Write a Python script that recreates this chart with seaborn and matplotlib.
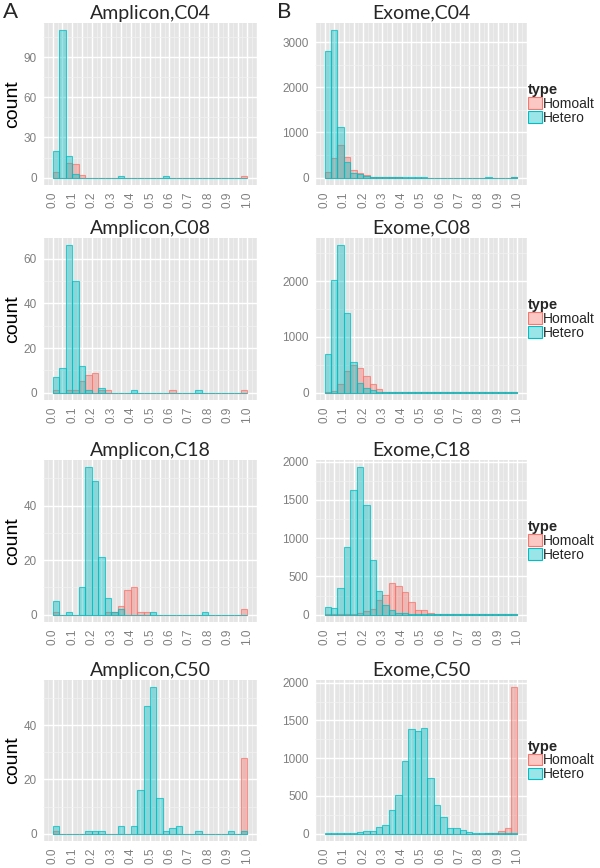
import numpy as np
import pandas as pd
import matplotlib
matplotlib.use("Agg")
import matplotlib.pyplot as plt
from matplotlib.patches import Patch
from matplotlib.ticker import MultipleLocator, FuncFormatter
import seaborn as sns

# 30 bins of allele fraction between 0 and 1 (ggplot default binning)
n_bins = 30
bin_edges = np.linspace(0, 1, n_bins + 1)
bin_mid = (bin_edges[:-1] + bin_edges[1:]) / 2

types = ["Homoalt", "Hetero"]
panel_titles = ["Amplicon,C04", "Exome,C04", "Amplicon,C08", "Exome,C08",
                "Amplicon,C18", "Exome,C18", "Amplicon,C50", "Exome,C50"]

# counts per bin
amp_c04_homo = [4, 0, 11, 10, 2, 0, 0, 0, 0, 0, 0, 0, 0, 0, 0, 0, 0, 0, 0, 0, 0, 0, 0, 0, 0, 0, 0, 0, 0, 1]
amp_c04_het = [20, 110, 16, 3, 0, 0, 0, 0, 0, 0, 1, 0, 0, 0, 0, 0, 0, 1, 0, 0, 0, 0, 0, 0, 0, 0, 0, 0, 0, 0]
exo_c04_homo = [118, 434, 720, 463, 169, 96, 51, 20, 10, 6, 5, 4, 3, 3, 3, 3, 3, 3, 3, 3, 3, 3, 3, 3, 3, 3, 3, 3, 3, 10]
exo_c04_het = [2800, 3260, 1125, 346, 103, 80, 37, 20, 10, 8, 6, 5, 5, 4, 4, 4, 3, 3, 3, 3, 3, 3, 3, 3, 3, 5, 3, 3, 3, 5]

amp_c08_homo = [1, 0, 1, 1, 5, 8, 9, 1, 1, 0, 0, 0, 0, 0, 0, 0, 0, 0, 1, 0, 0, 0, 0, 0, 0, 0, 0, 0, 0, 1]
amp_c08_het = [7, 11, 66, 50, 12, 1, 0, 2, 0, 0, 0, 0, 1, 0, 0, 0, 0, 0, 0, 0, 0, 0, 1, 0, 0, 0, 0, 0, 0, 0]
exo_c08_homo = [5, 30, 149, 381, 488, 446, 292, 149, 60, 20, 12, 8, 6, 5, 4, 3, 3, 3, 3, 3, 3, 3, 3, 3, 3, 3, 3, 3, 3, 5]
exo_c08_het = [700, 2020, 2640, 1433, 555, 179, 89, 42, 20, 15, 10, 8, 6, 5, 5, 4, 4, 4, 3, 3, 3, 3, 3, 3, 3, 3, 3, 3, 3, 3]

amp_c18_homo = [1, 0, 0, 0, 0, 0, 0, 0, 1, 1, 3, 9, 10, 1, 1, 0, 0, 0, 0, 0, 0, 0, 0, 0, 0, 0, 0, 0, 0, 2]
amp_c18_het = [5, 0, 1, 0, 10, 54, 49, 21, 6, 1, 2, 0, 0, 0, 0, 1, 0, 0, 0, 0, 0, 0, 0, 1, 0, 0, 0, 0, 0, 0]
exo_c18_homo = [3, 3, 3, 5, 9, 22, 43, 78, 195, 262, 418, 375, 297, 160, 65, 58, 24, 12, 10, 8, 6, 5, 5, 4, 4, 4, 4, 4, 5, 13]
exo_c18_het = [103, 87, 349, 886, 1624, 1926, 1437, 708, 305, 125, 60, 26, 20, 13, 10, 5, 4, 3, 3, 3, 3, 3, 3, 3, 3, 3, 3, 3, 3, 3]

amp_c50_homo = [1, 0, 0, 0, 0, 0, 0, 0, 0, 0, 0, 0, 0, 0, 0, 0, 0, 0, 0, 0, 0, 0, 0, 0, 0, 0, 0, 0, 0, 28]
amp_c50_het = [3, 0, 0, 0, 0, 1, 1, 1, 0, 0, 3, 0, 3, 16, 47, 54, 13, 1, 2, 3, 0, 0, 1, 0, 0, 0, 0, 1, 0, 1]
exo_c50_homo = [0, 0, 0, 0, 0, 0, 0, 0, 0, 0, 0, 0, 0, 0, 0, 0, 0, 0, 0, 0, 0, 0, 0, 0, 0, 5, 10, 30, 79, 1938]
exo_c50_het = [5, 3, 3, 5, 10, 18, 30, 30, 84, 110, 313, 511, 956, 1388, 1366, 1396, 740, 379, 216, 79, 70, 45, 20, 8, 5, 8, 10, 15, 10, 10]

panel_counts = [(amp_c04_homo, amp_c04_het), (exo_c04_homo, exo_c04_het),
                (amp_c08_homo, amp_c08_het), (exo_c08_homo, exo_c08_het),
                (amp_c18_homo, amp_c18_het), (exo_c18_homo, exo_c18_het),
                (amp_c50_homo, amp_c50_het), (exo_c50_homo, exo_c50_het)]
y_steps = [30, 1000, 20, 1000, 20, 500, 20, 500]

colors = {"Homoalt": "#F8766D", "Hetero": "#00BFC4"}
grey = "#7F7F7F"

sns.set_theme(style="darkgrid", rc={
    "axes.facecolor": "#E5E5E5",
    "grid.color": "white",
    "axes.edgecolor": "#E5E5E5",
})
plt.rcParams["font.family"] = ["Liberation Sans", "DejaVu Sans"]

fig = plt.figure(figsize=(6, 8.68), dpi=100)
W, H = 600, 868
cols = [(43, 214), (315, 212)]
rows = [(23, 185), (238, 400), (460, 622), (680, 841)]

for i, title in enumerate(panel_titles):
    r, c = divmod(i, 2)
    x0, w = cols[c]
    top, bot = rows[r]
    ax = fig.add_axes([x0 / W, 1 - bot / H, w / W, (bot - top) / H])
    ax.set_axisbelow(True)

    homo, het = panel_counts[i]
    df = pd.DataFrame({"vaf": np.concatenate([bin_mid, bin_mid]),
                       "count": homo + het,
                       "type": ["Homoalt"] * n_bins + ["Hetero"] * n_bins})
    for t in types:
        sub = df[df["type"] == t]
        rgb = matplotlib.colors.to_rgb(colors[t])
        sns.histplot(data=sub, x="vaf", weights="count",
                     binwidth=1 / n_bins, binrange=(0, 1),
                     facecolor=(*rgb, 0.4), edgecolor=(*rgb, 0.75),
                     linewidth=0.8, ax=ax)

    ymax = max(max(homo), max(het))
    ax.set_xlim(-0.05, 1.05)
    ax.set_ylim(-0.05 * ymax, 1.05 * ymax)

    ax.xaxis.set_major_locator(MultipleLocator(0.05))
    ax.xaxis.set_minor_locator(MultipleLocator(0.025))
    ax.xaxis.set_major_formatter(FuncFormatter(
        lambda v, p: f"{v:.1f}" if abs(round(v * 10) - v * 10) < 1e-6 else ""))
    ax.yaxis.set_major_locator(MultipleLocator(y_steps[i]))
    ax.yaxis.set_minor_locator(MultipleLocator(y_steps[i] / 2))
    ax.yaxis.set_major_formatter(FuncFormatter(lambda v, p: f"{int(round(v))}"))
    ax.grid(which="major", color="white", linewidth=1.0)
    ax.grid(which="minor", color="#F2F2F2", linewidth=0.5)
    ax.tick_params(which="major", length=3, width=0.8, color=grey,
                   labelcolor=grey, labelsize=8.5, pad=1.5)
    ax.tick_params(which="minor", length=0)
    ax.tick_params(axis="x", labelrotation=90)
    for s in ax.spines.values():
        s.set_visible(False)

    ax.set_title(title, fontsize=14, family=["Lato", "DejaVu Sans"], pad=3)
    ax.set_xlabel("")
    if c == 0:
        ax.set_ylabel("count", fontsize=14, color="black")
        ax.yaxis.set_label_coords(-0.10, 0.5)
    else:
        ax.set_ylabel("")
        handles = [Patch(facecolor=(*matplotlib.colors.to_rgb(colors[t]), 0.4),
                         edgecolor=colors[t], linewidth=0.8, label=t) for t in types]
        leg = ax.legend(handles=handles, title="type", loc="center left",
                        bbox_to_anchor=(1.0, 0.5), frameon=False, fontsize=10,
                        title_fontproperties={"weight": "bold", "size": 10.5},
                        handlelength=1.0, handleheight=0.9, handletextpad=0.1,
                        labelspacing=0.0, borderpad=0, borderaxespad=0.05)
        leg._legend_box.align = "left"

fig.text(3 / W, 1 - 2 / H, "A", va="top", fontsize=16, family=["Lato", "DejaVu Sans"])
fig.text(277 / W, 1 - 2 / H, "B", va="top", fontsize=16, family=["Lato", "DejaVu Sans"])

fig.savefig("out.png", dpi=100)
